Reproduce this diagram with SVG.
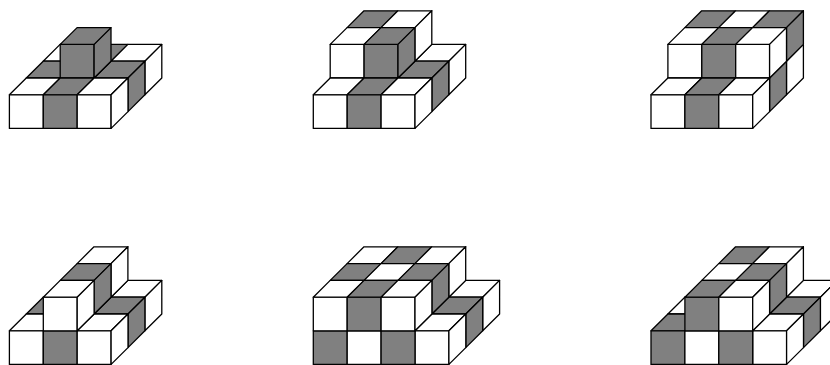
<svg xmlns="http://www.w3.org/2000/svg" width="830" height="365" viewBox="0 0 830 365">
<style>
.cube{stroke:#000;stroke-width:1.3;stroke-linejoin:round}
.w{fill:#fff}
.g{fill:#808080}
</style>
<defs>
<polygon id="T" points="0,0 33.9,0 50.8,-16.8 16.9,-16.8"/>
<polygon id="F" points="0,0 33.9,0 33.9,33.6 0,33.6"/>
<polygon id="R" points="33.9,0 50.8,-16.8 50.8,16.8 33.9,33.6"/>
</defs>
<rect width="830" height="365" fill="#fff"/>
<g id="fig1" class="cube" transform="translate(9.4,128.4)">
<use href="#T" class="w" x="33.8" y="-67.2"/><use href="#T" class="g" x="67.7" y="-67.2"/><use href="#T" class="w" x="101.6" y="-67.2"/><use href="#R" class="w" x="101.6" y="-67.2"/>
<use href="#T" class="g" x="16.9" y="-50.4"/><use href="#T" class="g" x="84.7" y="-50.4"/><use href="#R" class="g" x="84.7" y="-50.4"/>
<use href="#F" class="g" x="50.8" y="-84"/><use href="#R" class="g" x="50.8" y="-84"/><use href="#T" class="g" x="50.8" y="-84"/>
<use href="#T" class="w" x="0" y="-33.6"/><use href="#T" class="g" x="33.9" y="-33.6"/><use href="#T" class="w" x="67.8" y="-33.6"/>
<use href="#F" class="w" x="0" y="-33.6"/><use href="#F" class="g" x="33.9" y="-33.6"/><use href="#F" class="w" x="67.8" y="-33.6"/><use href="#R" class="w" x="67.8" y="-33.6"/>
</g>
<g id="fig2" class="cube" transform="translate(313.3,128.4)">
<use href="#T" class="w" x="101.6" y="-67.2"/><use href="#R" class="w" x="101.6" y="-67.2"/>
<use href="#T" class="g" x="33.8" y="-100.8"/><use href="#T" class="w" x="67.7" y="-100.8"/><use href="#R" class="w" x="67.7" y="-100.8"/>
<use href="#T" class="g" x="84.7" y="-50.4"/><use href="#R" class="g" x="84.7" y="-50.4"/>
<use href="#F" class="w" x="16.9" y="-84"/><use href="#F" class="g" x="50.8" y="-84"/><use href="#T" class="w" x="16.9" y="-84"/><use href="#T" class="g" x="50.8" y="-84"/><use href="#R" class="g" x="50.8" y="-84"/>
<use href="#T" class="w" x="0" y="-33.6"/><use href="#T" class="g" x="33.9" y="-33.6"/><use href="#T" class="w" x="67.8" y="-33.6"/>
<use href="#F" class="w" x="0" y="-33.6"/><use href="#F" class="g" x="33.9" y="-33.6"/><use href="#F" class="w" x="67.8" y="-33.6"/><use href="#R" class="w" x="67.8" y="-33.6"/>
</g>
<g id="fig3" class="cube" transform="translate(651,128.4)">
<use href="#R" class="w" x="101.6" y="-67.2"/>
<use href="#T" class="g" x="33.8" y="-100.8"/><use href="#T" class="w" x="67.7" y="-100.8"/><use href="#T" class="g" x="101.6" y="-100.8"/><use href="#R" class="g" x="101.6" y="-100.8"/>
<use href="#R" class="g" x="84.7" y="-50.4"/>
<use href="#F" class="w" x="16.9" y="-84"/><use href="#F" class="g" x="50.8" y="-84"/><use href="#F" class="w" x="84.7" y="-84"/>
<use href="#T" class="w" x="16.9" y="-84"/><use href="#T" class="g" x="50.8" y="-84"/><use href="#T" class="w" x="84.7" y="-84"/><use href="#R" class="w" x="84.7" y="-84"/>
<use href="#T" class="w" x="0" y="-33.6"/><use href="#T" class="g" x="33.9" y="-33.6"/><use href="#T" class="w" x="67.8" y="-33.6"/>
<use href="#F" class="w" x="0" y="-33.6"/><use href="#F" class="g" x="33.9" y="-33.6"/><use href="#F" class="w" x="67.8" y="-33.6"/><use href="#R" class="w" x="67.8" y="-33.6"/>
</g>
<g id="fig4" class="cube" transform="translate(9.4,364.4)">
<use href="#T" class="w" x="101.6" y="-67.2"/><use href="#R" class="w" x="101.6" y="-67.2"/>
<use href="#T" class="w" x="67.7" y="-100.8"/><use href="#R" class="w" x="67.7" y="-100.8"/>
<use href="#T" class="g" x="16.9" y="-50.4"/><use href="#T" class="g" x="84.7" y="-50.4"/><use href="#R" class="g" x="84.7" y="-50.4"/>
<use href="#T" class="g" x="50.8" y="-84"/><use href="#R" class="g" x="50.8" y="-84"/>
<use href="#T" class="w" x="0" y="-33.6"/><use href="#T" class="w" x="67.8" y="-33.6"/>
<use href="#F" class="w" x="0" y="-33.6"/><use href="#F" class="g" x="33.9" y="-33.6"/><use href="#F" class="w" x="67.8" y="-33.6"/><use href="#R" class="w" x="67.8" y="-33.6"/>
<use href="#F" class="w" x="33.9" y="-67.2"/><use href="#T" class="w" x="33.9" y="-67.2"/><use href="#R" class="w" x="33.9" y="-67.2"/>
</g>
<g id="fig5" class="cube" transform="translate(313.3,364.4)">
<use href="#T" class="w" x="135.5" y="-67.2"/><use href="#R" class="w" x="135.5" y="-67.2"/>
<use href="#T" class="w" x="33.8" y="-100.8"/><use href="#T" class="g" x="67.7" y="-100.8"/><use href="#T" class="w" x="101.6" y="-100.8"/><use href="#R" class="w" x="101.6" y="-100.8"/>
<use href="#T" class="g" x="118.6" y="-50.4"/><use href="#R" class="g" x="118.6" y="-50.4"/>
<use href="#T" class="g" x="16.9" y="-84"/><use href="#T" class="w" x="50.8" y="-84"/><use href="#T" class="g" x="84.7" y="-84"/><use href="#R" class="g" x="84.7" y="-84"/>
<use href="#T" class="w" x="101.7" y="-33.6"/><use href="#F" class="w" x="101.7" y="-33.6"/><use href="#R" class="w" x="101.7" y="-33.6"/>
<use href="#F" class="g" x="0" y="-33.6"/><use href="#F" class="w" x="33.9" y="-33.6"/><use href="#F" class="g" x="67.8" y="-33.6"/>
<use href="#F" class="w" x="0" y="-67.2"/><use href="#F" class="g" x="33.9" y="-67.2"/><use href="#F" class="w" x="67.8" y="-67.2"/>
<use href="#T" class="w" x="0" y="-67.2"/><use href="#T" class="g" x="33.9" y="-67.2"/><use href="#T" class="w" x="67.8" y="-67.2"/><use href="#R" class="w" x="67.8" y="-67.2"/>
</g>
<g id="fig6" class="cube" transform="translate(651,364.4)">
<use href="#T" class="w" x="135.5" y="-67.2"/><use href="#R" class="w" x="135.5" y="-67.2"/>
<use href="#T" class="g" x="67.7" y="-100.8"/><use href="#T" class="w" x="101.6" y="-100.8"/><use href="#R" class="w" x="101.6" y="-100.8"/>
<use href="#T" class="w" x="16.9" y="-50.4"/>
<use href="#T" class="g" x="118.6" y="-50.4"/><use href="#R" class="g" x="118.6" y="-50.4"/>
<use href="#T" class="w" x="50.8" y="-84"/><use href="#T" class="g" x="84.7" y="-84"/><use href="#R" class="g" x="84.7" y="-84"/>
<use href="#T" class="g" x="0" y="-33.6"/>
<use href="#T" class="w" x="101.7" y="-33.6"/><use href="#F" class="w" x="101.7" y="-33.6"/><use href="#R" class="w" x="101.7" y="-33.6"/>
<use href="#F" class="g" x="0" y="-33.6"/><use href="#F" class="w" x="33.9" y="-33.6"/><use href="#F" class="g" x="67.8" y="-33.6"/>
<use href="#F" class="g" x="33.9" y="-67.2"/><use href="#F" class="w" x="67.8" y="-67.2"/>
<use href="#T" class="g" x="33.9" y="-67.2"/><use href="#T" class="w" x="67.8" y="-67.2"/><use href="#R" class="w" x="67.8" y="-67.2"/>
</g>
</svg>
